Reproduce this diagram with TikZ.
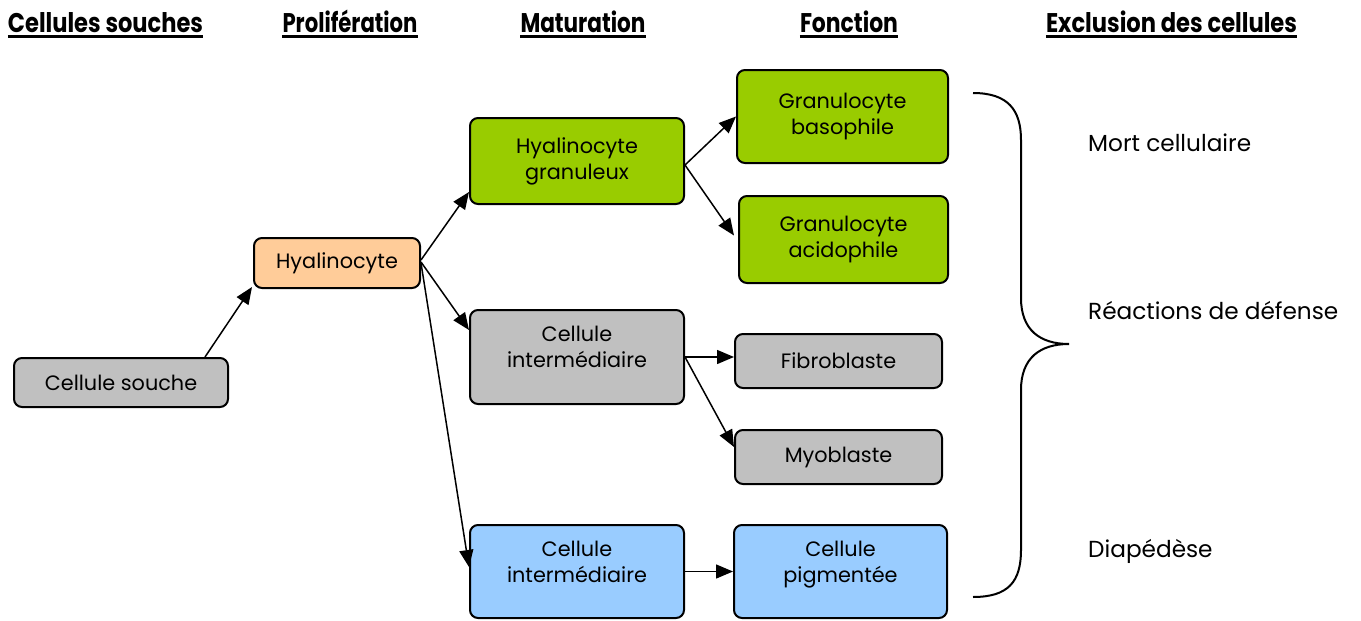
\documentclass[tikz,border=0pt]{standalone}
\usepackage{fontspec}
\setmainfont{Poppins}
\newfontfamily\hfont{Poppins Bold}
\usetikzlibrary{arrows.meta,calc}
\definecolor{cgray}{HTML}{C0C0C0}
\definecolor{cpeach}{HTML}{FFCC99}
\definecolor{cgreen}{HTML}{99CC00}
\definecolor{cblue}{HTML}{99CCFF}
\newcommand{\bodyfont}{\fontsize{20.8}{26}\selectfont}
\newcommand{\labfont}{\fontsize{23.2}{28}\selectfont}
\newcommand{\hdr}[2]{\resizebox{#1pt}{\height}{\hfont\fontsize{27}{30}\selectfont #2}}
\begin{document}
\begin{tikzpicture}[x=1pt,y=-1pt,
  box/.style={draw, line width=2pt, rounded corners=8pt, inner sep=0pt, align=center, font=\bodyfont},
  tall/.style={text depth=12pt},
  hd/.style={inner sep=0pt, anchor=base},
  uline/.style={line width=3pt},
  lab/.style={inner sep=0pt, anchor=base west, font=\labfont},
  arr/.style={line width=1.5pt, -{Triangle[length=17pt,width=14pt]}},
  brace/.style={line width=2pt}]
\useasboundingbox (0,0) rectangle (1361,621);
% headers
\node[hd] (h1) at (105.5,32) {\hdr{195}{Cellules souches}};
\node[hd] (h2) at (350,32) {\hdr{135}{Prolifération}};
\node[hd] (h3) at (583,32) {\hdr{125}{Maturation}};
\node[hd] (h4) at (849,32) {\hdr{98}{Fonction}};
\node[hd] (h5) at (1171.5,32) {\hdr{251}{Exclusion des cellules}};
\foreach \h in {h1,h2,h3,h4,h5}
  \draw[uline] ([yshift=-4.5pt]\h.base west) -- ([yshift=-4.5pt]\h.base east);
% boxes
\node[box, fill=cgray, minimum width=214pt, minimum height=49pt] (souche) at (121,382.5) {Cellule souche};
\node[box, fill=cpeach, minimum width=166pt, minimum height=50pt] (hyal) at (337,263) {Hyalinocyte};
\node[box, fill=cgreen, minimum width=214pt, minimum height=86pt] (gran) at (577,161) {Hyalinocyte\\granuleux};
\node[box, fill=cgreen, minimum width=211pt, minimum height=93pt] (baso) at (842.5,116.5) {Granulocyte\\basophile};
\node[box, fill=cgreen, minimum width=209pt, minimum height=87pt] (acido) at (843.5,239.5) {Granulocyte\\acidophile};
\node[box, fill=cgray, minimum width=214pt, minimum height=94pt] (ci1) at (577,357) {Cellule\\intermédiaire\\[-14pt]\strut};
\node[box, fill=cgray, minimum width=207pt, minimum height=54pt] (fibro) at (838.5,361) {Fibroblaste};
\node[box, fill=cgray, minimum width=207pt, minimum height=54pt] (myo) at (838.5,457) {Myoblaste};
\node[box, fill=cblue, minimum width=214pt, minimum height=93pt] (ci2) at (577,571.5) {Cellule\\intermédiaire\\[-14pt]\strut};
\node[box, fill=cblue, minimum width=213pt, minimum height=93pt] (pig) at (840.5,571.5) {Cellule\\pigmentée\\[-14pt]\strut};
% arrows
\draw[arr] ([xshift=84pt]souche.north) -- ([shift={(-1pt,2pt)}]hyal.south west);
\draw[arr] ([yshift=3pt]hyal.east) -- ([yshift=13pt]gran.south west);
\draw[arr] ([yshift=1pt]hyal.east) -- ([yshift=-21pt]ci1.north west);
\draw[arr] (hyal.east) -- ([yshift=-43pt]ci2.north west);
\draw[arr] ([yshift=-4pt]gran.east) -- (baso.west);
\draw[arr] ([yshift=-4pt]gran.east) -- ([shift={(-4pt,4pt)}]acido.west);
\draw[arr] (ci1.east) -- (ci1.east -| fibro.west);
\draw[arr] (ci1.east) -- ([yshift=10pt]myo.west);
\draw[arr] (ci2.east) -- (ci2.east -| pig.west);
% brace
\draw[brace] (973,93) .. controls (1008,93) and (1021,110) .. (1021,140)
  -- (1021,298) .. controls (1021,330) and (1040,344) .. (1069,344)
  .. controls (1040,344) and (1021,358) .. (1021,390)
  -- (1021,550) .. controls (1021,582) and (1008,597) .. (973,597);
% labels
\node[lab] (l1) at (1088,151) {Mort cellulaire};
\node[lab] (l2) at (1088,319) {Réactions de défense};
\node[lab] (l3) at (1088,557) {Diapédèse};
\end{tikzpicture}
\end{document}
